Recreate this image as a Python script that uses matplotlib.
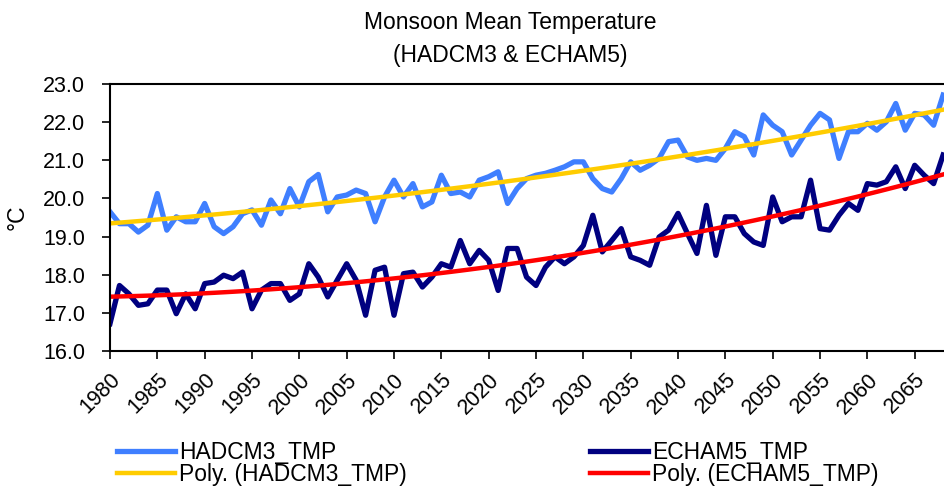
import matplotlib
matplotlib.use("Agg")
import matplotlib.pylab as pl
import numpy as np

pl.rcParams["font.family"] = ["Liberation Sans", "DejaVu Sans"]

years = list(range(1980, 2069))

hadcm3 = [19.65, 19.34, 19.34, 19.12, 19.30, 20.13, 19.17, 19.52, 19.39, 19.39,
          19.87, 19.26, 19.08, 19.26, 19.60, 19.70, 19.30, 19.96, 19.60, 20.26,
          19.78, 20.44, 20.63, 19.65, 20.04, 20.09, 20.22, 20.13, 19.39, 20.04,
          20.48, 20.04, 20.39, 19.78, 19.91, 20.61, 20.13, 20.17, 20.04, 20.48,
          20.57, 20.70, 19.87, 20.26, 20.52, 20.61, 20.66, 20.74, 20.83, 20.96,
          20.96, 20.52, 20.26, 20.17, 20.52, 20.96, 20.74, 20.87, 21.05, 21.49,
          21.53, 21.09, 21.00, 21.05, 21.00, 21.31, 21.75, 21.62, 21.14, 22.19,
          21.92, 21.75, 21.14, 21.53, 21.92, 22.23, 22.06, 21.05, 21.75, 21.75,
          21.97, 21.79, 22.01, 22.49, 21.79, 22.23, 22.19, 21.92, 22.71]

echam5 = [16.72, 17.72, 17.50, 17.20, 17.24, 17.60, 17.60, 16.98, 17.50, 17.11,
          17.77, 17.81, 17.99, 17.90, 18.07, 17.11, 17.60, 17.77, 17.77, 17.33,
          17.50, 18.29, 17.94, 17.42, 17.86, 18.29, 17.86, 16.94, 18.12, 18.20,
          16.94, 18.03, 18.07, 17.68, 17.94, 18.29, 18.20, 18.90, 18.29, 18.64,
          18.38, 17.59, 18.69, 18.69, 17.94, 17.72, 18.20, 18.47, 18.29, 18.47,
          18.77, 19.56, 18.60, 18.90, 19.21, 18.47, 18.38, 18.25, 18.99, 19.17,
          19.61, 19.08, 18.56, 19.82, 18.51, 19.52, 19.52, 19.08, 18.86, 18.77,
          20.04, 19.39, 19.52, 19.52, 20.48, 19.21, 19.17, 19.56, 19.87, 19.69,
          20.39, 20.35, 20.44, 20.83, 20.26, 20.87, 20.61, 20.39, 21.14]

x = np.array(years)

# 2nd order polynomial trend lines (like Excel "Poly.")
poly_had = np.polyval(np.polyfit(x, hadcm3, 2), x)
poly_ech = np.polyval(np.polyfit(x, echam5, 2), x)

fig = pl.figure(figsize=(9.45, 4.87), dpi=100)
ax = fig.add_axes([0.1164, 0.279, 0.8836, 0.5485])

l1, = ax.plot(x, hadcm3, color="#3F7FFF", lw=3.8, label="HADCM3_TMP")
l3, = ax.plot(x, echam5, color="#000080", lw=3.8, label="ECHAM5_TMP")
l2, = ax.plot(x, poly_had, color="#FFCC00", lw=3.2, label="Poly. (HADCM3_TMP)")
l4, = ax.plot(x, poly_ech, color="#FF0000", lw=3.2, label="Poly. (ECHAM5_TMP)")

ax.set_xlim(1980, 2068.2)
ax.set_ylim(16, 23)
ax.set_xticks(range(1980, 2066, 5))
ax.set_yticks(np.arange(16, 23.5, 1))
ax.set_yticklabels(["%.1f" % v for v in np.arange(16, 23.5, 1)])
ax.tick_params(labelsize=15.5, length=6, width=1.2, direction="out")
ax.tick_params(axis="y", pad=12)
ax.tick_params(axis="x", pad=7)
pl.setp(ax.get_xticklabels(), rotation=45, ha="right", rotation_mode="anchor")
for s in ["left", "bottom", "top"]:
    ax.spines[s].set_linewidth(1.5)
ax.spines["right"].set_visible(False)

ax.set_ylabel("°C", fontsize=16.5, labelpad=10)

fig.text(0.54, 0.953, "Monsoon Mean Temperature", ha="center", va="center", fontsize=16.5)
fig.text(0.54, 0.887, "(HADCM3 & ECHAM5)", ha="center", va="center", fontsize=16.5)

fig.legend([l1, l2, l3, l4],
           ["HADCM3_TMP", "Poly. (HADCM3_TMP)", "ECHAM5_TMP", "Poly. (ECHAM5_TMP)"],
           ncol=2, loc="upper left", bbox_to_anchor=(0.112, 0.117),
           frameon=False, fontsize=16.5, handlelength=2.5, handletextpad=0.2,
           columnspacing=8.0, labelspacing=-0.05, borderpad=0.0)

pl.savefig("out.png", dpi=100)
